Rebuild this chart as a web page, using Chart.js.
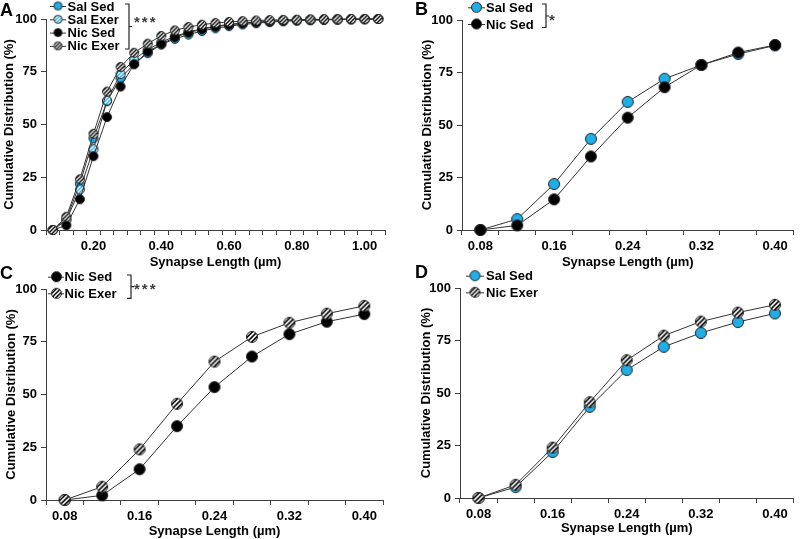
<!DOCTYPE html>
<html>
<head>
<meta charset="utf-8">
<script src="https://cdn.jsdelivr.net/npm/chart.js@4/dist/chart.umd.min.js"></script>
<style>
  body { margin: 0; background: #fff; }
  canvas { position: absolute; }
</style>
</head>
<body>
<canvas id="chartA" width="400" height="270" style="left:0;top:0"></canvas>
<canvas id="chartB" width="400" height="270" style="left:400px;top:0"></canvas>
<canvas id="chartC" width="400" height="279" style="left:0;top:260px"></canvas>
<canvas id="chartD" width="400" height="279" style="left:400px;top:260px"></canvas>
<script>
// synapse length bins (µm)
const lengthsA = ["0.08", "0.12", "0.16", "0.20", "0.24", "0.28", "0.32", "0.36", "0.40",
  "0.44", "0.48", "0.52", "0.56", "0.60", "0.64", "0.68", "0.72", "0.76", "0.80",
  "0.84", "0.88", "0.92", "0.96", "1.00", "1.04"];
const lengthsBCD = ["0.08", "0.12", "0.16", "0.20", "0.24", "0.28", "0.32", "0.36", "0.40"];
const tickLabelsA = ["0.20", "0.40", "0.60", "0.80", "1.00"];
const tickLabelsBCD = ["0.08", "0.16", "0.24", "0.32", "0.40"];

// cumulative distribution (%)
const salSed = [0, 5.2, 21.9, 43.4, 61, 72, 78.6, 83.8, 87.9, 90.6, 92.6, 94.3, 95.6,
  96.6, 97.4, 98, 98.5, 98.9, 99.2, 99.4, 99.6, 99.7, 99.8, 99.9, 100];
const salExer = [0, 4.6, 19.2, 38.3, 61.4, 74, 80.8, 85.5, 89, 91.8, 93.8, 95.4, 96.6,
  97.5, 98.1, 98.6, 99, 99.3, 99.5, 99.6, 99.7, 99.8, 99.9, 99.9, 100];
const nicSed = [0, 2.2, 14.6, 35, 53.5, 68, 78.6, 84.5, 88.1, 91.3, 93.5, 95.1, 96.3,
  97.2, 97.9, 98.4, 98.8, 99.1, 99.4, 99.6, 99.7, 99.8, 99.9, 99.9, 100];
const nicExer = [0, 6.3, 24, 45.6, 65.6, 77.3, 84, 88.3, 92, 94.6, 96.2, 97.3, 98.1,
  98.6, 99, 99.3, 99.5, 99.6, 99.7, 99.8, 99.9, 99.9, 100, 100, 100];

const FONT = '"Liberation Sans", Arial, sans-serif';
const AXIS = "#404040";
const LINE = "#333";
const BLUE = "#1fafe6";

Chart.defaults.font.family = FONT;
Chart.defaults.color = "#000";

// circle marker, optionally hatched with diagonal stripes
function marker(r, fill, stripe) {
  const size = Math.ceil(2 * r + 3);
  const c = document.createElement("canvas");
  c.width = c.height = size;
  const g = c.getContext("2d");
  const m = size / 2;
  g.beginPath();
  g.arc(m, m, r, 0, Math.PI * 2);
  g.fillStyle = fill;
  g.fill();
  if (stripe) {
    g.save();
    g.clip();
    g.strokeStyle = stripe;
    g.lineWidth = r * 0.3;
    const step = r * 0.85;
    for (let k = -2 * size; k < 2 * size; k += step) {
      g.beginPath();
      g.moveTo(m + k - size, m + size);
      g.lineTo(m + k + size, m - size);
      g.stroke();
    }
    g.restore();
  }
  g.beginPath();
  g.arc(m, m, r, 0, Math.PI * 2);
  g.strokeStyle = "#222";
  g.lineWidth = 1;
  g.stroke();
  return c;
}

const SAL_SED = { name: "Sal Sed", order: 3, marker: r => marker(r, BLUE, null) };
const SAL_EXER = { name: "Sal Exer", order: 2, marker: r => marker(r, "#fff", BLUE) };
const NIC_SED = { name: "Nic Sed", order: 1, marker: r => marker(r, "#000", null) };
const NIC_EXER = { name: "Nic Exer", order: 0, marker: r => marker(r, "#fff", "#000") };

function drawDecor(chart, p) {
  const ctx = chart.ctx;
  ctx.save();
  ctx.fillStyle = "#000";
  ctx.font = "bold 18px " + FONT;
  ctx.textBaseline = "alphabetic";
  ctx.fillText(p.letter[0], p.letter[1], p.letter[2]);

  const lg = p.legend;
  ctx.font = "bold 13px " + FONT;
  ctx.textBaseline = "middle";
  lg.items.forEach((s, i) => {
    const y = lg.ys[i];
    ctx.strokeStyle = LINE;
    ctx.lineWidth = 1;
    ctx.beginPath();
    ctx.moveTo(lg.x1, y + 0.5);
    ctx.lineTo(lg.x2, y + 0.5);
    ctx.stroke();
    const img = s.marker(lg.r);
    ctx.drawImage(img, lg.mx - img.width / 2, y - img.height / 2);
    ctx.fillStyle = "#000";
    ctx.fillText(s.name, lg.tx, y + 1);
  });

  const b = p.bracket;
  if (b) {
    ctx.strokeStyle = "#222";
    ctx.lineWidth = 1.2;
    ctx.beginPath();
    ctx.moveTo(b.x - 4, b.y1);
    ctx.lineTo(b.x, b.y1);
    ctx.lineTo(b.x, b.y2);
    ctx.lineTo(b.x - 4, b.y2);
    ctx.moveTo(b.x, b.mid);
    ctx.lineTo(b.x + 3, b.mid);
    ctx.stroke();
    ctx.fillStyle = "#404040";
    ctx.font = "bold 15px " + FONT;
    ctx.textBaseline = "alphabetic";
    ctx.letterSpacing = "2px";
    ctx.fillText(b.stars, b.sx, b.sy);
  }
  ctx.restore();
}

function makeChart(id, p) {
  new Chart(document.getElementById(id), {
    type: "line",
    data: {
      labels: p.labels,
      datasets: p.series.map(s => ({
        label: s.name,
        data: s.values,
        borderColor: LINE,
        borderWidth: 1,
        pointStyle: s.style.marker(p.r),
        pointRadius: p.r,
        order: s.style.order,
        clip: false,
        tension: 0
      }))
    },
    options: {
      responsive: false,
      animation: false,
      events: [],
      layout: { padding: p.pad },
      plugins: { legend: { display: false }, tooltip: { enabled: false } },
      scales: {
        x: {
          type: "category",
          offset: true,
          grid: { offset: true, drawOnChartArea: false, tickLength: 5, color: AXIS },
          border: { color: AXIS },
          ticks: {
            autoSkip: false,
            maxRotation: 0,
            padding: 4,
            color: "#000",
            font: { size: 13, weight: "bold" },
            callback: (v, i) => p.tickLabels.includes(p.labels[i]) ? p.labels[i] : ""
          },
          title: {
            display: true,
            text: "Synapse Length (µm)",
            color: "#000",
            font: { size: 13, weight: "bold" },
            padding: 0
          },
          afterFit: s => { s.height = p.xh; }
        },
        y: {
          min: 0,
          max: 100,
          grid: { drawOnChartArea: false, tickLength: 5, color: AXIS },
          border: { color: AXIS },
          ticks: { stepSize: 25, padding: 4, color: "#000", font: { size: 13, weight: "bold" } },
          title: {
            display: true,
            text: "Cumulative Distribution (%)",
            color: "#000",
            font: { size: 13, weight: "bold" },
            padding: { top: 2, bottom: 0 }
          },
          afterFit: s => { s.width = p.yw; }
        }
      }
    },
    plugins: [{ id: "decor", afterDraw: chart => drawDecor(chart, p) }]
  });
}

const n = lengthsBCD.length;

makeChart("chartA", {
  labels: lengthsA, tickLabels: tickLabelsA, r: 4.5,
  pad: { left: 0, top: 19, right: 15, bottom: 0 }, yw: 46, xh: 40,
  series: [
    { style: SAL_SED, values: salSed },
    { style: SAL_EXER, values: salExer },
    { style: NIC_SED, values: nicSed },
    { style: NIC_EXER, values: nicExer }
  ],
  letter: ["A", 0, 16],
  legend: { items: [SAL_SED, SAL_EXER, NIC_SED, NIC_EXER], ys: [6, 19.3, 32.6, 45.9],
    x1: 50, x2: 66, mx: 58, tx: 67.5, r: 4 },
  bracket: { x: 129, y1: 4, y2: 49, mid: 26.5, stars: "***", sx: 134, sy: 27 }
});

makeChart("chartB", {
  labels: lengthsBCD, tickLabels: tickLabelsBCD, r: 5.5,
  pad: { left: 18, top: 20, right: 2, bottom: 0 }, yw: 44, xh: 40,
  series: [
    { style: SAL_SED, values: salSed.slice(0, n) },
    { style: NIC_SED, values: nicSed.slice(0, n) }
  ],
  letter: ["B", 15, 15],
  legend: { items: [SAL_SED, NIC_SED], ys: [7.3, 24], x1: 68, x2: 85, mx: 76.5, tx: 86, r: 5 },
  bracket: { x: 146, y1: 4, y2: 27.5, mid: 16, stars: "*", sx: 149, sy: 25 }
});

makeChart("chartC", {
  labels: lengthsBCD, tickLabels: tickLabelsBCD, r: 5.5,
  pad: { left: 2, top: 29, right: 17, bottom: 0 }, yw: 44, xh: 39,
  series: [
    { style: NIC_SED, values: nicSed.slice(0, n) },
    { style: NIC_EXER, values: nicExer.slice(0, n) }
  ],
  letter: ["C", 0, 19],
  legend: { items: [NIC_SED, NIC_EXER], ys: [16.7, 33.3], x1: 48, x2: 64, mx: 56.5, tx: 64.5, r: 5 },
  bracket: { x: 131, y1: 15, y2: 38.3, mid: 26.7, stars: "***", sx: 134, sy: 34 }
});

makeChart("chartD", {
  labels: lengthsBCD, tickLabels: tickLabelsBCD, r: 5.5,
  pad: { left: 17, top: 28, right: 2, bottom: 3 }, yw: 43, xh: 38,
  series: [
    { style: SAL_SED, values: salSed.slice(0, n) },
    { style: NIC_EXER, values: nicExer.slice(0, n) }
  ],
  letter: ["D", 15, 18],
  legend: { items: [SAL_SED, NIC_EXER], ys: [15.7, 32.3], x1: 66, x2: 84, mx: 75, tx: 86, r: 5 },
  bracket: null
});
</script>
</body>
</html>
